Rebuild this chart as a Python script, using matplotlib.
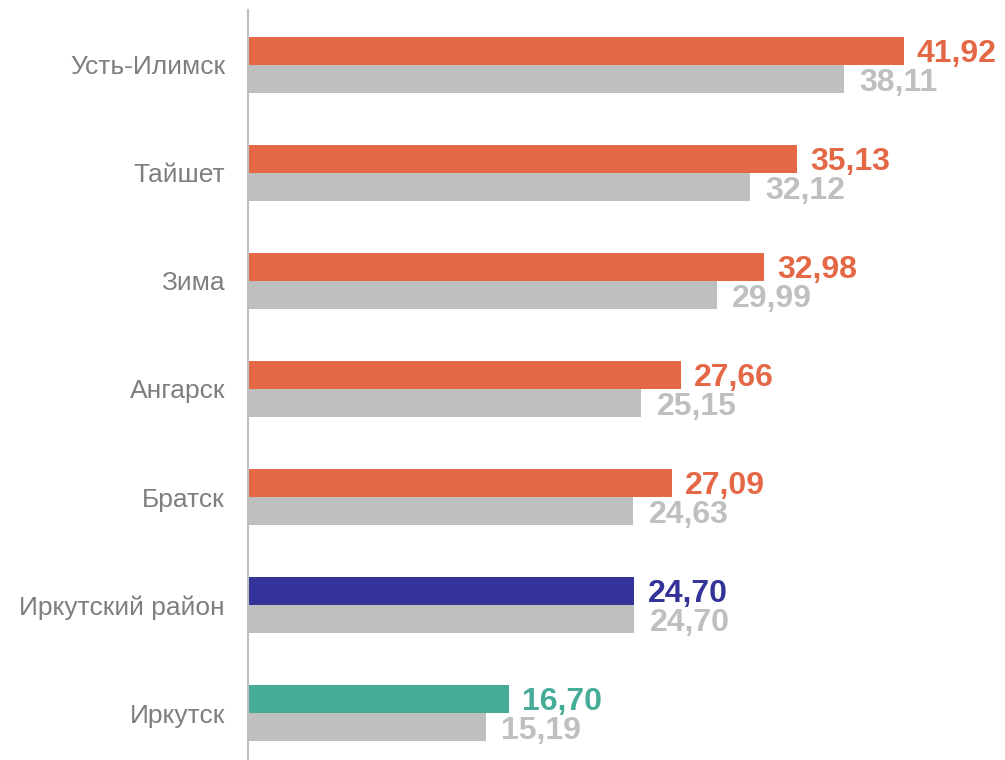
import matplotlib
matplotlib.use("Agg")
import matplotlib.pyplot as plt

categories = ["Усть-Илимск", "Тайшет", "Зима", "Ангарск", "Братск", "Иркутский район", "Иркутск"]
current = [41.92, 35.13, 32.98, 27.66, 27.09, 24.70, 16.70]
previous = [38.11, 32.12, 29.99, 25.15, 24.63, 24.70, 15.19]
bar_colors = ["#E46846", "#E46846", "#E46846", "#E46846", "#E46846", "#333399", "#45AC97"]
grey = "#BFBFBF"

plt.rcParams['font.family'] = ['Liberation Sans', 'DejaVu Sans']

fig = plt.figure(figsize=(10.05, 7.6), dpi=100)
ax = fig.add_axes([248/1005, 0, 1 - 248/1005, 750/760])

h = 0.259
off = 0.13
ys = list(range(len(categories)))
ax.barh([y - off for y in ys], current, height=h, color=bar_colors)
ax.barh([y + off for y in ys], previous, height=h, color=grey)

def fmt(v):
    return f"{v:.2f}".replace(".", ",")

for y, v, c in zip(ys, current, bar_colors):
    ax.annotate(fmt(v), (v, y - off), xytext=(9.5, 0), textcoords="offset points",
                va="center_baseline", ha="left", fontsize=23, fontweight="bold", color=c)
for y, v in zip(ys, previous):
    ax.annotate(fmt(v), (v, y + off), xytext=(11, 0), textcoords="offset points",
                va="center_baseline", ha="left", fontsize=23, fontweight="bold", color=grey)

ax.set_yticks(ys)
ax.set_yticklabels(categories, fontsize=19, color="#7F7F7F")
ax.tick_params(axis="y", length=0, pad=16.5)
ax.set_xticks([])
ax.set_xlim(0, 48.4)
ax.set_ylim(6.435, -0.509)
for s in ["top", "right", "bottom"]:
    ax.spines[s].set_visible(False)
ax.spines["left"].set_color("#BFBFBF")
ax.spines["left"].set_linewidth(1.5)

fig.savefig("out.png", dpi=100)
